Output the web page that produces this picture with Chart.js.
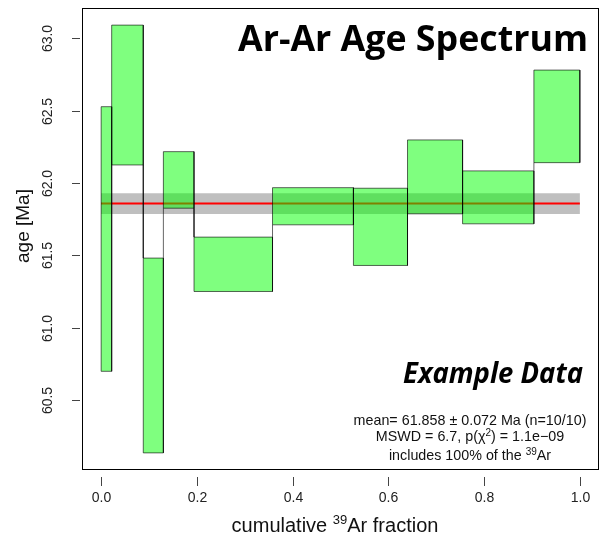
<!DOCTYPE html>
<html>
<head>
<meta charset="utf-8">
<script src="https://cdn.jsdelivr.net/npm/chart.js@4.4.1/dist/chart.umd.min.js"></script>
<style>
html, body { margin: 0; padding: 0; background: #fff; }
#wrap { width: 606px; height: 542px; }
</style>
</head>
<body>
<div id="wrap"><canvas id="myChart" width="606" height="542"></canvas></div>
<script>
// step boundaries (cumulative 39Ar fraction)
var cumFraction = [0, 0.022, 0.088, 0.130, 0.194, 0.358, 0.527, 0.640, 0.755, 0.904, 1.0];
// lower / upper age of each heating step [Ma]
var ageLow  = [60.698, 62.125, 60.134, 61.826, 61.250, 61.711, 61.430, 61.787, 61.718, 62.141];
var ageHigh = [62.528, 63.092, 61.481, 62.217, 61.626, 61.968, 61.964, 62.298, 62.084, 62.781];
// plateau / weighted mean
var meanAge = 61.858;
var meanErr = 0.072;
// ticks
var xTicks = [0, 0.2, 0.4, 0.6, 0.8, 1.0];
var xTickLabels = ['0.0', '0.2', '0.4', '0.6', '0.8', '1.0'];
var yTicks = [60.5, 61.0, 61.5, 62.0, 62.5, 63.0];
var yTickLabels = ['60.5', '61.0', '61.5', '62.0', '62.5', '63.0'];

// R style 4% axis extension
var lo = Math.min.apply(null, ageLow), hi = Math.max.apply(null, ageHigh);
var yMin = lo - 0.04 * (hi - lo), yMax = hi + 0.04 * (hi - lo);
var x0 = cumFraction[0], x1 = cumFraction[cumFraction.length - 1];

var datasets = [];

// grey error band of the mean
datasets.push({
    data: [
        {x: x0, y: meanAge - meanErr}, {x: x1, y: meanAge - meanErr},
        {x: x1, y: meanAge + meanErr}, {x: x0, y: meanAge + meanErr},
        {x: x0, y: meanAge - meanErr}
    ],
    fill: 'shape',
    backgroundColor: 'rgba(128,128,128,0.5)',
    borderColor: 'transparent',
    borderWidth: 0,
    pointRadius: 0,
    order: 3
});

// mean line
datasets.push({
    data: [{x: x0, y: meanAge}, {x: x1, y: meanAge}],
    borderColor: '#ff0000',
    borderWidth: 2,
    fill: false,
    pointRadius: 0,
    order: 2
});

// one box per step
for (var i = 0; i < ageLow.length; i++) {
    var a = cumFraction[i], b = cumFraction[i + 1];
    datasets.push({
        data: [
            {x: a, y: ageLow[i]}, {x: a, y: ageHigh[i]},
            {x: b, y: ageHigh[i]}, {x: b, y: ageLow[i]},
            {x: a, y: ageLow[i]}
        ],
        fill: 'shape',
        backgroundColor: 'rgba(0,255,0,0.5)',
        borderColor: 'rgba(0,0,0,0.6)',
        borderWidth: 1,
        pointRadius: 0,
        order: 1
    });
}

// vertical connectors between neighbouring steps
var conn = [];
for (var j = 0; j < ageLow.length - 1; j++) {
    var xb = cumFraction[j + 1];
    if (ageHigh[j + 1] < ageLow[j]) {
        conn.push({x: xb, y: ageLow[j]}, {x: xb, y: ageHigh[j + 1]}, {x: xb, y: null});
    } else if (ageLow[j + 1] > ageHigh[j]) {
        conn.push({x: xb, y: ageHigh[j]}, {x: xb, y: ageLow[j + 1]}, {x: xb, y: null});
    }
}
datasets.push({
    data: conn,
    borderColor: 'rgba(0,0,0,0.6)',
    borderWidth: 1,
    fill: false,
    pointRadius: 0,
    spanGaps: false,
    order: 0
});

// text with superscripts: parts = [[text, font, dy], ...]
function richText(ctx, parts, x, y, align) {
    var w = 0;
    parts.forEach(function (p) { ctx.font = p[1]; w += ctx.measureText(p[0]).width; });
    var cx = align === 'center' ? x - w / 2 : x;
    ctx.textAlign = 'left';
    ctx.textBaseline = 'alphabetic';
    parts.forEach(function (p) {
        ctx.font = p[1];
        ctx.fillText(p[0], cx, y + (p[2] || 0));
        cx += ctx.measureText(p[0]).width;
    });
}

// squeeze text into a given width
function fitText(ctx, text, font, left, right, baseline) {
    ctx.font = font;
    var w = ctx.measureText(text).width;
    ctx.save();
    ctx.translate(left, baseline);
    ctx.scale((right - left) / w, 1);
    ctx.textAlign = 'left';
    ctx.textBaseline = 'alphabetic';
    ctx.fillText(text, 0, 0);
    ctx.restore();
}

var rAxes = {
    id: 'rAxes',
    afterDraw: function (chart) {
        var ctx = chart.ctx, area = chart.chartArea;
        var xs = chart.scales.x, ys = chart.scales.y;
        var f = '"Liberation Sans", Arial, sans-serif';
        ctx.save();
        ctx.strokeStyle = '#000';
        ctx.fillStyle = '#000';
        ctx.lineWidth = 1;

        // box
        ctx.strokeRect(Math.round(area.left) + 0.5, Math.round(area.top) + 0.5,
            Math.round(area.right - area.left) - 1, Math.round(area.bottom - area.top) - 1);

        // x ticks
        ctx.strokeStyle = '#444';
        ctx.font = '14px ' + f;
        ctx.textAlign = 'center';
        ctx.textBaseline = 'middle';
        ctx.fillStyle = '#222';
        xTicks.forEach(function (v, k) {
            var px = Math.round(xs.getPixelForValue(v)) + 0.5;
            ctx.beginPath();
            ctx.moveTo(px, area.bottom + 7);
            ctx.lineTo(px, area.bottom + 16);
            ctx.stroke();
            ctx.fillText(xTickLabels[k], px, area.bottom + 28);
        });

        // y ticks
        yTicks.forEach(function (v, k) {
            var py = Math.round(ys.getPixelForValue(v)) + 0.5;
            ctx.beginPath();
            ctx.moveTo(area.left - 10, py);
            ctx.lineTo(area.left - 2, py);
            ctx.stroke();
            ctx.save();
            ctx.translate(area.left - 34, py);
            ctx.rotate(-Math.PI / 2);
            ctx.fillText(yTickLabels[k], 0, 0);
            ctx.restore();
        });

        // axis titles
        ctx.fillStyle = '#111';
        ctx.save();
        ctx.translate(24, 226);
        ctx.rotate(-Math.PI / 2);
        ctx.font = '19px ' + f;
        ctx.textAlign = 'center';
        ctx.textBaseline = 'middle';
        ctx.fillText('age [Ma]', 0, 0);
        ctx.restore();

        richText(ctx, [
            ['cumulative ', '20px ' + f, 0],
            ['39', '13px ' + f, -8],
            ['Ar fraction', '20px ' + f, 0]
        ], 335, 532, 'center');

        // statistics
        var sf = '14.3px ' + f, sm = '10px ' + f;
        var cx = 470;
        richText(ctx, [['mean= ' + meanAge.toFixed(3) + ' \u00b1 ' + meanErr.toFixed(3) + ' Ma (n=10/10)', sf, 0]], cx, 425, 'center');
        richText(ctx, [['MSWD = 6.7, p(\u03c7', sf, 0], ['2', sm, -5], [') = 1.1e\u221209', sf, 0]], cx, 441, 'center');
        richText(ctx, [['includes 100% of the ', sf, 0], ['39', sm, -5], ['Ar', sf, 0]], cx, 460, 'center');

        // headings
        ctx.fillStyle = '#000';
        fitText(ctx, 'Ar-Ar Age Spectrum', 'bold 36px "Open Sans", sans-serif', 238, 588, 51);
        fitText(ctx, 'Example Data', 'italic bold 28px "Open Sans", sans-serif', 403, 583, 383);
        ctx.restore();
    }
};

var ctx = document.getElementById('myChart').getContext('2d');
var chart = new Chart(ctx, {
    type: 'line',
    data: { datasets: datasets },
    options: {
        responsive: false,
        animation: false,
        devicePixelRatio: 1,
        layout: { padding: { left: 82, top: 8, right: 7, bottom: 72 } },
        scales: {
            x: { type: 'linear', display: false, min: -0.04, max: 1.04 },
            y: { type: 'linear', display: false, min: yMin, max: yMax }
        },
        plugins: {
            legend: { display: false },
            tooltip: { enabled: false },
            filler: { drawTime: 'beforeDatasetDraw' }
        },
        elements: { line: { tension: 0 } }
    },
    plugins: [rAxes]
});
</script>
</body>
</html>
